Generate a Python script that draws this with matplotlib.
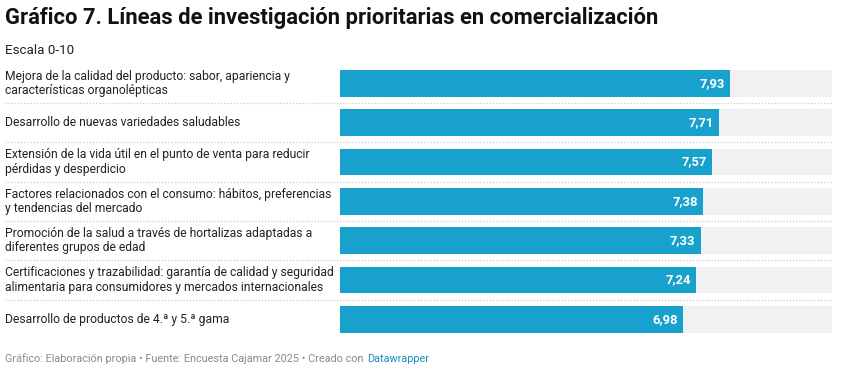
import matplotlib
matplotlib.use("Agg")
import matplotlib.pyplot as plt
from matplotlib.transforms import blended_transform_factory

categories = [
    "Mejora de la calidad del producto: sabor, apariencia y\ncaracterísticas organolépticas",
    "Desarrollo de nuevas variedades saludables",
    "Extensión de la vida útil en el punto de venta para reducir\npérdidas y desperdicio",
    "Factores relacionados con el consumo: hábitos, preferencias\ny tendencias del mercado",
    "Promoción de la salud a través de hortalizas adaptadas a\ndiferentes grupos de edad",
    "Certificaciones y trazabilidad: garantía de calidad y seguridad\nalimentaria para consumidores y mercados internacionales",
    "Desarrollo de productos de 4.ª y 5.ª gama",
]
values = [7.93, 7.71, 7.57, 7.38, 7.33, 7.24, 6.98]
value_labels = ["7,93", "7,71", "7,57", "7,38", "7,33", "7,24", "6,98"]
scale_max = 10

title = "Gráfico 7. Líneas de investigación prioritarias en comercialización"
subtitle = "Escala 0-10"
footer = "Gráfico: Elaboración propia • Fuente: Encuesta Cajamar 2025 • Creado con"
footer_link = "Datawrapper"

plt.rcParams['font.family'] = ['Roboto', 'DejaVu Sans']

W, H = 849, 379
fig = plt.figure(figsize=(W / 100, H / 100), dpi=100)
fig.patch.set_facecolor("white")

def fx(px):
    return px / W

def fy(py):
    return 1 - py / H

n = len(values)
top_px, bot_px = 70, 332.7
left_px, right_px = 340, 832
ax = fig.add_axes([fx(left_px), fy(bot_px), fx(right_px - left_px), (bot_px - top_px) / H])
pad = 0.34
ax.set_ylim(n - 1 + pad, -pad)
ax.set_xlim(0, scale_max)
ax.axis("off")

ypos = list(range(n))
ax.barh(ypos, [scale_max] * n, height=0.68, color="#f1f1f1", left=0)
ax.barh(ypos, values, height=0.68, color="#18a1cd")

for y, v, lab in zip(ypos, values, value_labels):
    ax.annotate(lab, (v, y), xytext=(-3.8, 0), textcoords="offset points",
                ha="right", va="center", color="white", fontsize=9.4, fontweight="bold")

tr = blended_transform_factory(fig.transFigure, ax.transData)
for y, cat in zip(ypos, categories):
    fig.text(fx(5), y, cat, transform=tr, fontsize=8.7, color="#222222",
             ha="left", va="center", linespacing=1.12)

for i in range(n - 1):
    ax.plot([fx(5), fx(832)], [i + 0.5, i + 0.5], transform=tr, clip_on=False,
            color="#cccccc", linewidth=0.9, linestyle=(0, (1, 1.5)))

fig.text(fx(5), fy(18), title, fontsize=15.8, fontweight="bold", color="#111111",
         ha="left", va="center")
fig.text(fx(5), fy(50), subtitle, fontsize=9.6, color="#222222", ha="left", va="center")

ft = fig.text(fx(5), fy(359), footer, fontsize=7.8, color="#8a8a8a", ha="left", va="center")
fig.canvas.draw()
bb = ft.get_window_extent()
fig.text((bb.x1 + 4) / W, fy(359), footer_link, fontsize=7.8, color="#1d8bbf",
         ha="left", va="center")

fig.savefig("out.png", dpi=100, facecolor="white")
